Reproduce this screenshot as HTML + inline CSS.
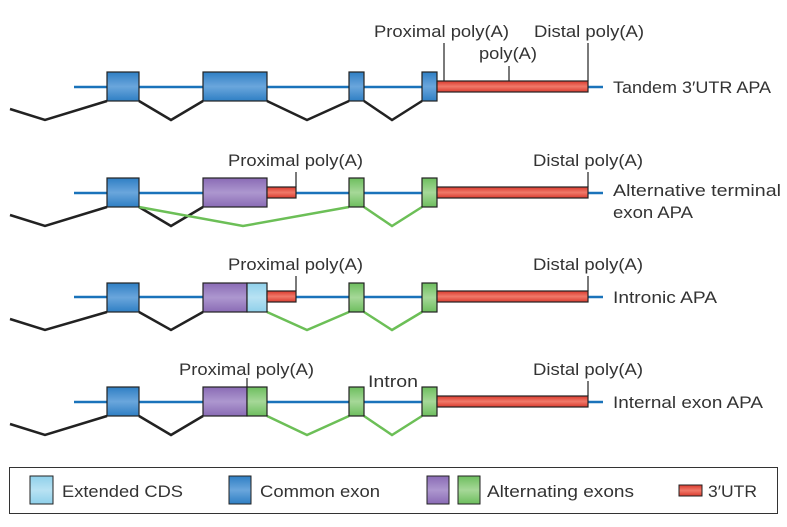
<!DOCTYPE html>
<html><head><meta charset="utf-8"><style>
html,body{margin:0;padding:0;background:#fff;}
svg{display:block;}
text{font-family:"Liberation Sans",sans-serif;font-size:17px;fill:#333;}
</style></head><body>
<svg width="787" height="527" viewBox="0 0 787 527" xmlns="http://www.w3.org/2000/svg">
<defs>
<linearGradient id="gb" x1="0" y1="0" x2="0" y2="1"><stop offset="0" stop-color="#2f7fc4"/><stop offset="0.5" stop-color="#6aa6dc"/><stop offset="1" stop-color="#2f7fc4"/></linearGradient>
<linearGradient id="gp" x1="0" y1="0" x2="0" y2="1"><stop offset="0" stop-color="#8a6bb5"/><stop offset="0.5" stop-color="#ad97cf"/><stop offset="1" stop-color="#8a6bb5"/></linearGradient>
<linearGradient id="gg" x1="0" y1="0" x2="0" y2="1"><stop offset="0" stop-color="#6dbe5e"/><stop offset="0.5" stop-color="#a6d898"/><stop offset="1" stop-color="#6dbe5e"/></linearGradient>
<linearGradient id="gr" x1="0" y1="0" x2="0" y2="1"><stop offset="0" stop-color="#d93a2e"/><stop offset="0.5" stop-color="#f07a6a"/><stop offset="1" stop-color="#d93a2e"/></linearGradient>
<linearGradient id="gl" x1="0" y1="0" x2="0" y2="1"><stop offset="0" stop-color="#8fd0ea"/><stop offset="0.5" stop-color="#b8e2f3"/><stop offset="1" stop-color="#8fd0ea"/></linearGradient>
</defs>

<!-- Row 1 -->
<g>
<line x1="74" y1="87" x2="603" y2="87" stroke="#1a73ba" stroke-width="2.5"/>
<polyline points="10,109 45,120 107,101" fill="none" stroke="#222" stroke-width="2.5"/>
<polyline points="139,101 171,120 203,101" fill="none" stroke="#222" stroke-width="2.5"/>
<polyline points="267,101 307,120 349,101" fill="none" stroke="#222" stroke-width="2.5"/>
<polyline points="364,101 392,120 422,101" fill="none" stroke="#222" stroke-width="2.5"/>
<rect x="107" y="72" width="32" height="29" fill="url(#gb)" stroke="#222" stroke-width="1.2"/>
<rect x="203" y="72" width="64" height="29" fill="url(#gb)" stroke="#222" stroke-width="1.2"/>
<rect x="349" y="72" width="15" height="29" fill="url(#gb)" stroke="#222" stroke-width="1.2"/>
<rect x="422" y="72" width="15" height="29" fill="url(#gb)" stroke="#222" stroke-width="1.2"/>
<rect x="437" y="81" width="151" height="11" fill="url(#gr)" stroke="#222" stroke-width="1.2"/>
<line x1="444" y1="43" x2="444" y2="81" stroke="#222" stroke-width="1.2"/>
<line x1="509" y1="66" x2="509" y2="81" stroke="#222" stroke-width="1.2"/>
<line x1="588" y1="43" x2="588" y2="81" stroke="#222" stroke-width="1.2"/>
<text x="374" y="37" textLength="135" lengthAdjust="spacingAndGlyphs">Proximal poly(A)</text>
<text x="479" y="59" textLength="58" lengthAdjust="spacingAndGlyphs">poly(A)</text>
<text x="534" y="37" textLength="110" lengthAdjust="spacingAndGlyphs">Distal poly(A)</text>
<text x="613" y="93" textLength="158" lengthAdjust="spacingAndGlyphs">Tandem 3′UTR APA</text>
</g>

<!-- Row 2 -->
<g>
<line x1="74" y1="193" x2="603" y2="193" stroke="#1a73ba" stroke-width="2.5"/>
<polyline points="10,215 45,226 107,207" fill="none" stroke="#222" stroke-width="2.5"/>
<polyline points="139,207 171,226 203,207" fill="none" stroke="#222" stroke-width="2.5"/>
<polyline points="139,207 243,226 349,207" fill="none" stroke="#6cbf57" stroke-width="2.5"/>
<polyline points="364,207 392,226 422,207" fill="none" stroke="#6cbf57" stroke-width="2.5"/>
<rect x="107" y="178" width="32" height="29" fill="url(#gb)" stroke="#222" stroke-width="1.2"/>
<rect x="203" y="178" width="64" height="29" fill="url(#gp)" stroke="#222" stroke-width="1.2"/>
<rect x="267" y="187" width="29" height="11" fill="url(#gr)" stroke="#222" stroke-width="1.2"/>
<rect x="349" y="178" width="15" height="29" fill="url(#gg)" stroke="#222" stroke-width="1.2"/>
<rect x="422" y="178" width="15" height="29" fill="url(#gg)" stroke="#222" stroke-width="1.2"/>
<rect x="437" y="187" width="151" height="11" fill="url(#gr)" stroke="#222" stroke-width="1.2"/>
<line x1="296" y1="172" x2="296" y2="187" stroke="#222" stroke-width="1.2"/>
<line x1="588" y1="172" x2="588" y2="187" stroke="#222" stroke-width="1.2"/>
<text x="228" y="166" textLength="135" lengthAdjust="spacingAndGlyphs">Proximal poly(A)</text>
<text x="533" y="166" textLength="110" lengthAdjust="spacingAndGlyphs">Distal poly(A)</text>
<text x="613" y="196" textLength="168" lengthAdjust="spacingAndGlyphs">Alternative terminal</text>
<text x="613" y="218" textLength="80" lengthAdjust="spacingAndGlyphs">exon APA</text>
</g>

<!-- Row 3 -->
<g>
<line x1="74" y1="297" x2="603" y2="297" stroke="#1a73ba" stroke-width="2.5"/>
<polyline points="10,319 45,330 107,312" fill="none" stroke="#222" stroke-width="2.5"/>
<polyline points="139,312 171,330 203,312" fill="none" stroke="#222" stroke-width="2.5"/>
<polyline points="267,312 307,330 349,312" fill="none" stroke="#6cbf57" stroke-width="2.5"/>
<polyline points="364,312 392,330 422,312" fill="none" stroke="#6cbf57" stroke-width="2.5"/>
<rect x="107" y="283" width="32" height="29" fill="url(#gb)" stroke="#222" stroke-width="1.2"/>
<rect x="203" y="283" width="44" height="29" fill="url(#gp)" stroke="#222" stroke-width="1.2"/>
<rect x="247" y="283" width="20" height="29" fill="url(#gl)" stroke="#222" stroke-width="1.2"/>
<rect x="267" y="291" width="29" height="11" fill="url(#gr)" stroke="#222" stroke-width="1.2"/>
<rect x="349" y="283" width="15" height="29" fill="url(#gg)" stroke="#222" stroke-width="1.2"/>
<rect x="422" y="283" width="15" height="29" fill="url(#gg)" stroke="#222" stroke-width="1.2"/>
<rect x="437" y="291" width="151" height="11" fill="url(#gr)" stroke="#222" stroke-width="1.2"/>
<line x1="296" y1="276" x2="296" y2="291" stroke="#222" stroke-width="1.2"/>
<line x1="588" y1="276" x2="588" y2="291" stroke="#222" stroke-width="1.2"/>
<text x="228" y="270" textLength="135" lengthAdjust="spacingAndGlyphs">Proximal poly(A)</text>
<text x="533" y="270" textLength="110" lengthAdjust="spacingAndGlyphs">Distal poly(A)</text>
<text x="613" y="303" textLength="104" lengthAdjust="spacingAndGlyphs">Intronic APA</text>
</g>

<!-- Row 4 -->
<g>
<line x1="74" y1="402" x2="603" y2="402" stroke="#1a73ba" stroke-width="2.5"/>
<polyline points="10,424 45,435 107,416" fill="none" stroke="#222" stroke-width="2.5"/>
<polyline points="139,416 171,435 203,416" fill="none" stroke="#222" stroke-width="2.5"/>
<polyline points="267,416 307,435 349,416" fill="none" stroke="#6cbf57" stroke-width="2.5"/>
<polyline points="364,416 392,435 422,416" fill="none" stroke="#6cbf57" stroke-width="2.5"/>
<rect x="107" y="387" width="32" height="29" fill="url(#gb)" stroke="#222" stroke-width="1.2"/>
<rect x="203" y="387" width="44" height="29" fill="url(#gp)" stroke="#222" stroke-width="1.2"/>
<rect x="247" y="387" width="20" height="29" fill="url(#gg)" stroke="#222" stroke-width="1.2"/>
<rect x="349" y="387" width="15" height="29" fill="url(#gg)" stroke="#222" stroke-width="1.2"/>
<rect x="422" y="387" width="15" height="29" fill="url(#gg)" stroke="#222" stroke-width="1.2"/>
<rect x="437" y="396" width="151" height="11" fill="url(#gr)" stroke="#222" stroke-width="1.2"/>
<line x1="247" y1="378" x2="247" y2="387" stroke="#222" stroke-width="1.2"/>
<line x1="588" y1="381" x2="588" y2="396" stroke="#222" stroke-width="1.2"/>
<text x="179" y="375" textLength="135" lengthAdjust="spacingAndGlyphs">Proximal poly(A)</text>
<text x="368" y="387" textLength="50" lengthAdjust="spacingAndGlyphs">Intron</text>
<text x="533" y="375" textLength="110" lengthAdjust="spacingAndGlyphs">Distal poly(A)</text>
<text x="613" y="408" textLength="150" lengthAdjust="spacingAndGlyphs">Internal exon APA</text>
</g>

<!-- Legend -->
<rect x="9.5" y="467.5" width="768" height="46" fill="none" stroke="#333" stroke-width="1"/>
<rect x="30" y="476" width="23" height="28" fill="url(#gl)" stroke="#222" stroke-width="1"/>
<text x="62" y="497" textLength="121" lengthAdjust="spacingAndGlyphs">Extended CDS</text>
<rect x="229" y="476" width="22" height="28" fill="url(#gb)" stroke="#222" stroke-width="1"/>
<text x="260" y="497" textLength="120" lengthAdjust="spacingAndGlyphs">Common exon</text>
<rect x="427" y="476" width="22" height="28" fill="url(#gp)" stroke="#222" stroke-width="1"/>
<rect x="458" y="476" width="22" height="28" fill="url(#gg)" stroke="#222" stroke-width="1"/>
<text x="487" y="497" textLength="147" lengthAdjust="spacingAndGlyphs">Alternating exons</text>
<rect x="679" y="485" width="23" height="11" fill="url(#gr)" stroke="#222" stroke-width="1"/>
<text x="708" y="497" textLength="49" lengthAdjust="spacingAndGlyphs">3′UTR</text>
</svg>
</body></html>
